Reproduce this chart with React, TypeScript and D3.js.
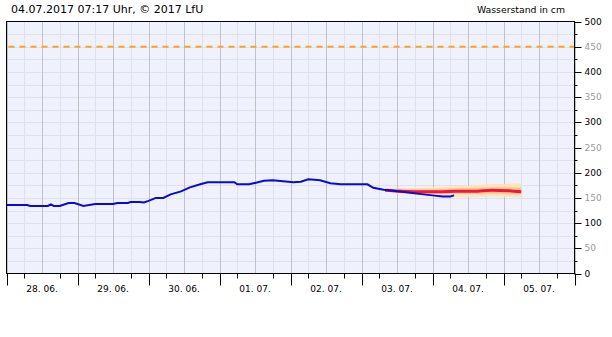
import React, { useEffect, useRef } from 'react';
import * as d3 from 'd3';

// observed water level (cm)
const obsTimes = [
  '2017-06-28 00:00', '2017-06-28 07:00', '2017-06-28 08:00', '2017-06-28 14:00', '2017-06-28 15:00',
  '2017-06-28 16:00', '2017-06-28 18:00', '2017-06-28 21:00', '2017-06-28 23:00', '2017-06-29 02:00',
  '2017-06-29 06:00', '2017-06-29 12:00', '2017-06-29 13:30', '2017-06-29 17:00', '2017-06-29 18:00',
  '2017-06-29 21:00', '2017-06-29 22:30', '2017-06-30 00:00', '2017-06-30 02:30', '2017-06-30 05:00',
  '2017-06-30 07:30', '2017-06-30 11:00', '2017-06-30 14:00', '2017-06-30 17:30', '2017-06-30 20:00',
  '2017-07-01 05:00', '2017-07-01 06:00', '2017-07-01 10:00', '2017-07-01 11:30', '2017-07-01 15:00',
  '2017-07-01 18:00', '2017-07-01 21:30', '2017-07-02 01:00', '2017-07-02 03:30', '2017-07-02 06:00',
  '2017-07-02 10:00', '2017-07-02 13:30', '2017-07-02 17:00', '2017-07-03 02:00', '2017-07-03 04:00',
  '2017-07-03 07:30', '2017-07-03 12:00', '2017-07-03 16:30', '2017-07-03 21:00', '2017-07-04 00:00',
  '2017-07-04 03:30', '2017-07-04 06:00', '2017-07-04 07:17',
];
const obsLevels = [
  136, 136, 134, 134, 137,
  134, 134, 140, 140, 134,
  138, 138, 140, 140, 142,
  142, 141, 144, 150, 150,
  157, 163, 171, 177, 181,
  181, 177, 177, 179, 184,
  185, 183, 181, 182, 187,
  185, 179, 177, 177, 170,
  166, 163, 160, 157, 155,
  153, 153, 155,
];

// forecast (median and uncertainty bands)
const fcTimes = [
  '2017-07-03 08:00', '2017-07-03 14:00', '2017-07-03 20:00', '2017-07-04 02:00', '2017-07-04 08:00',
  '2017-07-04 14:00', '2017-07-04 20:00', '2017-07-05 02:00', '2017-07-05 06:00',
];
const fcMedian = [165, 163, 162, 162, 163, 163, 165, 164, 162];
const fcInnerLow = [163, 160, 158, 158, 158, 158, 158, 157, 157];
const fcInnerHigh = [167, 166, 167, 168, 169, 170, 171, 171, 171];
const fcOuterLow = [162, 157, 155, 153, 152, 152, 153, 152, 152];
const fcOuterHigh = [168, 169, 170, 171, 173, 175, 177, 178, 179];

const yTicks = [0, 50, 100, 150, 200, 250, 300, 350, 400, 450, 500];
const warnLevel = 450;
const title = '04.07.2017 07:17 Uhr, © 2017 LfU';
const unitLabel = 'Wasserstand in cm';

const App: React.FC = () => {
  const svgRef = useRef<SVGSVGElement>(null);

  useEffect(() => {
    if (!svgRef.current) return;
    const svg = d3.select(svgRef.current);
    svg.selectAll('*').remove();

    const font = '"DejaVu Sans", Verdana, sans-serif';
    const parse = d3.timeParse('%Y-%m-%d %H:%M');
    const left = 6.5, right = 574.5, top = 21.5, bottom = 273.5;

    const x = d3.scaleTime()
      .domain([parse('2017-06-28 00:00')!, parse('2017-07-06 00:00')!])
      .range([left, right]);
    const y = d3.scaleLinear().domain([0, 500]).range([bottom, top]);

    // plot background
    svg.append('rect')
      .attr('x', left).attr('y', top)
      .attr('width', right - left).attr('height', bottom - top)
      .attr('fill', '#eff1fc');

    // light horizontal grid every 25 cm
    svg.append('g')
      .selectAll('line')
      .data(d3.range(25, 500, 25))
      .join('line')
      .attr('x1', left).attr('x2', right)
      .attr('y1', d => Math.round(y(d)) + 0.5).attr('y2', d => Math.round(y(d)) + 0.5)
      .attr('stroke', '#dfe1ee');

    // vertical grid every 6 h
    const sixHours = x.ticks(d3.timeHour.every(6)!);
    svg.append('g')
      .selectAll('line')
      .data(sixHours.filter(d => d.getHours() % 12 !== 0))
      .join('line')
      .attr('x1', d => Math.round(x(d)) + 0.5).attr('x2', d => Math.round(x(d)) + 0.5)
      .attr('y1', top).attr('y2', bottom)
      .attr('stroke', '#dfe1ee');
    svg.append('g')
      .selectAll('line')
      .data(sixHours.filter(d => d.getHours() % 12 === 0))
      .join('line')
      .attr('x1', d => Math.round(x(d)) + 0.5).attr('x2', d => Math.round(x(d)) + 0.5)
      .attr('y1', top).attr('y2', bottom)
      .attr('stroke', '#c2c2c6');

    // warning level
    svg.append('line')
      .attr('x1', left + 2).attr('x2', right)
      .attr('y1', y(warnLevel)).attr('y2', y(warnLevel))
      .attr('stroke', '#ffa31a')
      .attr('stroke-width', 2)
      .attr('stroke-dasharray', '6,5');

    // forecast bands
    const fc = fcTimes.map((t, i) => ({
      t: parse(t)!, med: fcMedian[i],
      il: fcInnerLow[i], ih: fcInnerHigh[i], ol: fcOuterLow[i], oh: fcOuterHigh[i],
    }));
    svg.append('path')
      .datum(fc)
      .attr('fill', '#fde4bd')
      .attr('d', d3.area<any>().x(d => x(d.t)).y0(d => y(d.ol)).y1(d => y(d.oh)).curve(d3.curveMonotoneX));
    svg.append('path')
      .datum(fc)
      .attr('fill', '#fcc98f')
      .attr('d', d3.area<any>().x(d => x(d.t)).y0(d => y(d.il)).y1(d => y(d.ih)).curve(d3.curveMonotoneX));
    svg.append('path')
      .datum(fc)
      .attr('fill', 'none')
      .attr('stroke', '#f5143e')
      .attr('stroke-width', 3)
      .attr('d', d3.line<any>().x(d => x(d.t)).y(d => y(d.med)).curve(d3.curveMonotoneX));

    // observed
    const obs = obsTimes.map((t, i) => ({ t: parse(t)!, v: obsLevels[i] }));
    svg.append('path')
      .datum(obs)
      .attr('fill', 'none')
      .attr('stroke', '#0a0ad0')
      .attr('stroke-width', 2)
      .attr('d', d3.line<any>().x(d => x(d.t)).y(d => y(d.v)));

    // frame
    svg.append('rect')
      .attr('x', left).attr('y', top)
      .attr('width', right - left).attr('height', bottom - top)
      .attr('fill', 'none')
      .attr('stroke', '#000');

    // bottom axis ticks
    const xTicks = svg.append('g');
    xTicks.selectAll('line')
      .data(sixHours.filter(d => d.getHours() !== 12))
      .join('line')
      .attr('x1', d => Math.round(x(d)) + 0.5).attr('x2', d => Math.round(x(d)) + 0.5)
      .attr('y1', bottom)
      .attr('y2', d => bottom + (d.getHours() === 0 ? 12 : 5))
      .attr('stroke', '#000');
    const fmt = d3.timeFormat('%d. %m.');
    xTicks.selectAll('text')
      .data(sixHours.filter(d => d.getHours() === 12))
      .join('text')
      .attr('x', d => x(d))
      .attr('y', 292)
      .attr('text-anchor', 'middle')
      .style('font-family', font)
      .style('font-size', '9px')
      .attr('fill', '#000')
      .text(d => fmt(d));

    // right axis
    const yAxis = svg.append('g');
    yAxis.selectAll('line')
      .data(d3.range(0, 501, 25))
      .join('line')
      .attr('x1', right).attr('x2', d => right + (d % 50 === 0 ? 7 : 3))
      .attr('y1', d => Math.round(y(d)) + 0.5).attr('y2', d => Math.round(y(d)) + 0.5)
      .attr('stroke', '#000');
    yAxis.selectAll('text')
      .data(yTicks)
      .join('text')
      .attr('x', right + 10)
      .attr('y', d => y(d))
      .attr('dy', '0.35em')
      .style('font-family', font)
      .style('font-size', '9px')
      .attr('fill', d => (d % 100 === 0 ? '#000' : '#9a9a9a'))
      .text(d => d);

    // titles
    svg.append('text')
      .attr('x', 11).attr('y', 13)
      .style('font-family', font)
      .style('font-size', '11px')
      .attr('fill', '#000')
      .text(title);
    svg.append('text')
      .attr('x', 565).attr('y', 13)
      .attr('text-anchor', 'end')
      .style('font-family', font)
      .style('font-size', '9.3px')
      .attr('fill', '#000')
      .text(unitLabel);
  }, []);

  return (
    <svg
      ref={svgRef}
      width={612}
      height={337}
      style={{ position: 'absolute', left: 0, top: 0, background: '#fff' }}
    />
  );
};

export default App;
